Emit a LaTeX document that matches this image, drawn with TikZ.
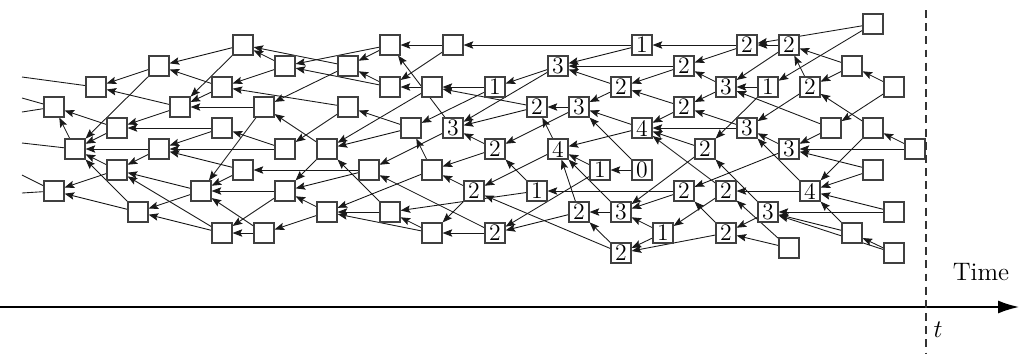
\documentclass[tikz,border=0pt]{standalone}
\usetikzlibrary{arrows.meta,backgrounds}
\begin{document}
\begin{tikzpicture}[x=0.02cm, y=-0.02cm,
  tx/.style={draw=black!75, line width=0.65pt, fill=white, minimum size=0.4cm, inner sep=0pt, font=\fontsize{13.5}{15}\selectfont},
  appr/.style={-{Stealth[length=5.5pt,width=4.2pt,inset=1pt]}, black!90, line width=0.5pt},
  stub/.style={black!90, line width=0.5pt}]
\useasboundingbox (0,0) rectangle (1024,353);

% --- Transactions, left part ---
\node[tx] (t0r4) at (54,107) {};
\node[tx] (t1r6) at (75,149) {};
\node[tx] (t0r8) at (54,191) {};
\node[tx] (t2r3) at (96,87) {};
\node[tx] (t3r5) at (117,128) {};
\node[tx] (t3r7) at (117,170) {};
\node[tx] (t4r9) at (138,212) {};
\node[tx] (t5r2) at (159,66) {};
\node[tx] (t6r4) at (180,107) {};
\node[tx] (t5r6) at (159,149) {};
\node[tx] (t7r8) at (201,191) {};
\node[tx] (t8r10) at (222,233) {};
\node[tx] (t9r1) at (243,45) {};
\node[tx] (t8r3) at (222,87) {};
\node[tx] (t8r5) at (222,128) {};
\node[tx] (t9r7) at (243,170) {};
\node[tx] (t10r4) at (264,107) {};
\node[tx] (t10r10) at (264,233) {};
\node[tx] (t11r2) at (285,66) {};
\node[tx] (t11r6) at (285,149) {};
\node[tx] (t11r8) at (285,191) {};
\node[tx] (t13r6) at (327,149) {};
\node[tx] (t13r9) at (327,212) {};
\node[tx] (t14r2) at (348,66) {};
\node[tx] (t14r4) at (348,107) {};
\node[tx] (t15r7) at (369,170) {};
\node[tx] (t16r1) at (390,45) {};
\node[tx] (t16r3) at (390,87) {};
\node[tx] (t16r9) at (390,212) {};
\node[tx] (t17r5) at (411,128) {};
\node[tx] (t18r3) at (432,87) {};
\node[tx] (t18r7) at (432,170) {};
\node[tx] (t18r10) at (432,233) {};
\node[tx] (t19r1) at (453,45) {};

% --- Transactions with weights ---
\node[tx] (t19r5) at (453,128) {3};
\node[tx] (t20r8) at (474,191) {2};
\node[tx] (t21r3) at (495,87) {1};
\node[tx] (t21r6) at (495,149) {2};
\node[tx] (t21r10) at (495,233) {2};
\node[tx] (t23r4) at (537,107) {2};
\node[tx] (t23r8) at (537,191) {1};
\node[tx] (t24r2) at (558,66) {3};
\node[tx] (t24r6) at (558,149) {4};
\node[tx] (t25r4) at (579,107) {3};
\node[tx] (t25r9) at (579,212) {2};
\node[tx] (t26r7) at (600,170) {1};
\node[tx] (t27r3) at (621,87) {2};
\node[tx] (t27r9) at (621,212) {3};
\node[tx] (t27r11) at (621,253) {2};
\node[tx] (t28r1) at (642,45) {1};
\node[tx] (t28r5) at (642,128) {4};
\node[tx] (t28r7) at (642,170) {0};
\node[tx] (t29r10) at (663,233) {1};
\node[tx] (t30r2) at (684,66) {2};
\node[tx] (t30r4) at (684,107) {2};
\node[tx] (t30r8) at (684,191) {2};
\node[tx] (t31r6) at (705,149) {2};
\node[tx] (t32r3) at (726,87) {3};
\node[tx] (t32r8) at (726,191) {2};
\node[tx] (t32r10) at (726,233) {2};
\node[tx] (t33r1) at (747,45) {2};
\node[tx] (t33r5) at (747,128) {3};
\node[tx] (t34r3) at (768,87) {1};
\node[tx] (t34r9) at (768,212) {3};
\node[tx] (t35r1) at (789,45) {2};
\node[tx] (t35r6) at (789,149) {3};
\node[tx] (t36r3) at (810,87) {2};
\node[tx] (t36r8) at (810,191) {4};

% --- Tips ---
\node[tx] (t35r10) at (789,248) {};
\node[tx] (t37r5) at (831,128) {};
\node[tx] (t38r2) at (852,66) {};
\node[tx] (t38r10) at (852,233) {};
\node[tx] (t39r0) at (873,24) {};
\node[tx] (t39r5) at (873,128) {};
\node[tx] (t39r7) at (873,170) {};
\node[tx] (t40r3) at (894,87) {};
\node[tx] (t40r9) at (894,212) {};
\node[tx] (t40r11) at (894,253) {};
\node[tx] (t41r6) at (915,149) {};

% loose ends on the left
\coordinate (l1) at (22,77);
\coordinate (l2) at (22,98);
\coordinate (l3) at (22,112);
\coordinate (l4) at (22,143);
\coordinate (l5) at (22,175);
\coordinate (l6) at (22,193);

% --- Approvals ---
\begin{scope}[on background layer]
\draw[stub] (t2r3) -- (l1);
\draw[stub] (t0r4) -- (l2) (t0r4) -- (l3);
\draw[stub] (t1r6) -- (l4);
\draw[stub] (t0r8) -- (l5) (t0r8) -- (l6);
\draw[appr] (t1r6) edge (t0r4);
\draw[appr] (t3r5) edge (t0r4) edge (t1r6);
\draw[appr] (t3r7) edge (t1r6) edge (t0r8);
\draw[appr] (t4r9) edge (t1r6) edge (t0r8);
\draw[appr] (t5r2) edge (t2r3) edge (t1r6);
\draw[appr] (t6r4) edge (t2r3) edge (t3r5);
\draw[appr] (t5r6) edge (t1r6) edge (t3r7);
\draw[appr] (t7r8) edge (t3r7) edge (t4r9);
\draw[appr] (t8r10) edge (t3r7) edge (t4r9);
\draw[appr] (t9r1) edge (t5r2) edge (t6r4);
\draw[appr] (t8r3) edge (t5r2) edge (t6r4);
\draw[appr] (t8r5) edge (t3r5) edge (t5r6);
\draw[appr] (t9r7) edge (t5r6) edge (t7r8);
\draw[appr] (t10r4) edge (t6r4) edge (t7r8);
\draw[appr] (t10r10) edge (t8r10) edge (t7r8);
\draw[appr] (t11r2) edge (t9r1) edge (t8r3);
\draw[appr] (t11r6) edge (t8r5) edge (t5r6);
\draw[appr] (t11r8) edge (t7r8) edge (t8r10);
\draw[appr] (t13r6) edge (t10r4) edge (t11r8);
\draw[appr] (t13r9) edge (t10r10) edge (t11r8);
\draw[appr] (t14r2) edge (t9r1) edge (t10r4);
\draw[appr] (t14r4) edge (t8r3) edge (t11r6);
\draw[appr] (t15r7) edge (t9r7) edge (t11r8);
\draw[appr] (t16r1) edge (t14r2) edge (t11r2);
\draw[appr] (t16r3) edge (t14r2) edge (t11r2);
\draw[appr] (t16r9) edge (t13r9) edge (t13r6);
\draw[appr] (t17r5) edge (t14r4) edge (t13r6);
\draw[appr] (t18r3) edge (t13r6) edge (t16r3);
\draw[appr] (t18r7) edge (t17r5) edge (t13r9);
\draw[appr] (t18r10) edge (t16r9) edge (t13r9);
\draw[appr] (t19r1) edge (t16r1) edge (t16r3);
\draw[appr] (t19r5) edge (t16r1) edge (t15r7);
\draw[appr] (t20r8) edge (t18r7) edge (t18r10);
\draw[appr] (t21r3) edge (t18r3) edge (t17r5);
\draw[appr] (t21r6) edge (t19r5) edge (t18r7);
\draw[appr] (t21r10) edge (t18r10) edge (t15r7);
\draw[appr] (t23r4) edge (t18r3) edge (t19r5);
\draw[appr] (t23r8) edge (t21r6) edge (t16r9);
\draw[appr] (t24r2) edge (t21r3) edge (t19r5);
\draw[appr] (t24r6) edge (t23r4) edge (t20r8);
\draw[appr] (t25r4) edge (t23r4) edge (t21r6);
\draw[appr] (t25r9) edge (t24r6) edge (t21r10);
\draw[appr] (t26r7) edge (t24r6) edge (t21r10);
\draw[appr] (t27r3) edge (t24r2) edge (t25r4);
\draw[appr] (t27r9) edge (t25r9) edge (t24r6);
\draw[appr] (t27r11) edge (t25r9) edge (t20r8);
\draw[appr] (t28r1) edge (t19r1) edge (t24r2);
\draw[appr] (t28r5) edge (t25r4) edge (t24r6);
\draw[appr] (t28r7) edge (t26r7) edge (t25r4);
\draw[appr] (t29r10) edge (t27r9) edge (t27r11);
\draw[appr] (t30r2) edge (t24r2) edge (t27r3);
\draw[appr] (t30r4) edge (t27r3) edge (t28r5);
\draw[appr] (t30r8) edge (t23r8) edge (t27r9);
\draw[appr] (t31r6) edge (t28r5) edge (t27r9);
\draw[appr] (t32r3) edge (t30r2) edge (t30r4);
\draw[appr] (t32r8) edge (t28r5) edge (t29r10);
\draw[appr] (t32r10) edge (t30r8) edge (t27r11);
\draw[appr] (t33r1) edge (t28r1) edge (t30r2);
\draw[appr] (t33r5) edge (t28r5) edge (t30r4);
\draw[appr] (t34r3) edge (t32r3) edge (t31r6);
\draw[appr] (t34r9) edge (t31r6) edge (t32r10);
\draw[appr] (t35r1) edge (t33r1) edge (t32r3);
\draw[appr] (t35r6) edge (t33r5) edge (t30r8);
\draw[appr] (t35r10) edge (t32r8) edge (t32r10);
\draw[appr] (t36r3) edge (t35r1) edge (t33r5);
\draw[appr] (t36r8) edge (t33r5) edge (t32r8);
\draw[appr] (t37r5) edge (t32r3) edge (t35r6);
\draw[appr] (t38r2) edge (t35r1) edge (t36r3);
\draw[appr] (t38r10) edge (t36r8) edge (t34r9);
\draw[appr] (t39r0) edge (t33r1) edge (t34r3);
\draw[appr] (t39r5) edge (t36r3) edge (t36r8);
\draw[appr] (t39r7) edge (t35r6) edge (t36r8);
\draw[appr] (t40r3) edge (t38r2) edge (t37r5);
\draw[appr] (t40r9) edge (t36r8) edge (t34r9);
\draw[appr] (t40r11) edge (t38r10) edge (t34r9);
\draw[appr] (t41r6) edge (t39r5) edge (t35r6);
\end{scope}

% --- Time axis and current time ---
\coordinate (axs) at (0,307);
\coordinate (axe) at (1019,307);
\draw[line width=0.9pt, -{Latex[length=0.42cm,width=0.26cm]}] (axs) -- (axe);
\coordinate (nowtop) at (926,10);
\coordinate (nowbot) at (926,353);
\draw[black!80, line width=0.6pt, dash pattern=on 4.5pt off 3pt] (nowtop) -- (nowbot);
\node[font=\Large] (timelab) at (981,272) {Time};
\node[font=\Large] (nowlab) at (938,330) {$t$};

\end{tikzpicture}
\end{document}
